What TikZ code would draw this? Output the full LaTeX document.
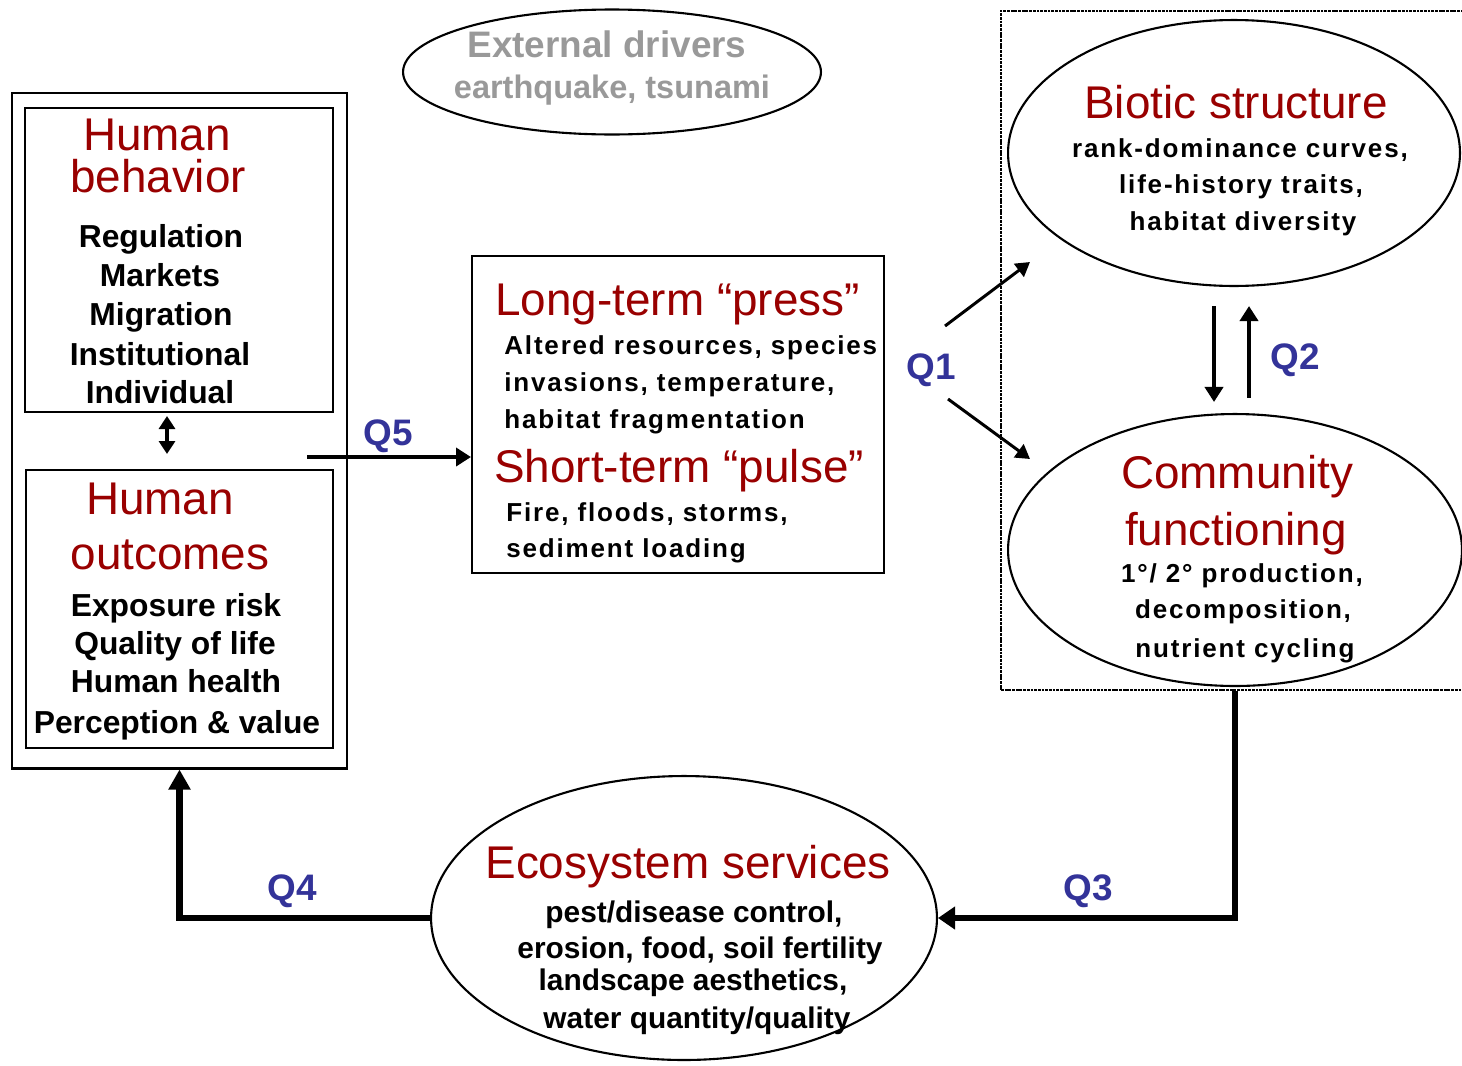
\documentclass[tikz,border=0pt]{standalone}
\usepackage{fontspec}
\setmainfont{Liberation Sans}
\newfontfamily\spacedsans{Liberation Sans}[LetterSpace=7]
\usetikzlibrary{arrows.meta,shapes.geometric,fit}
\definecolor{titlered}{HTML}{990000}
\definecolor{qblue}{HTML}{333399}
\definecolor{drivergray}{HTML}{999999}

\begin{document}
\begin{tikzpicture}[x=0.02cm,y=-0.02cm,
  txt/.style={inner sep=0pt, anchor=base},
  ltxt/.style={inner sep=0pt, anchor=base west},
  title/.style={text=titlered, font=\fontsize{26.1}{28}\selectfont},
  lbody/.style={font=\fontsize{18.1}{20}\selectfont\bfseries},
  sbody/.style={font=\fontsize{14.8}{17}\selectfont\spacedsans\bfseries},
  ebody/.style={font=\fontsize{17}{19}\selectfont\bfseries},
  qlabel/.style={txt, text=qblue, font=\fontsize{21}{23}\selectfont\bfseries},
  drivertxt/.style={txt, text=drivergray, font=\bfseries},
  box/.style={draw, line width=1.15pt, inner sep=0pt},
  oval/.style={draw, ellipse, line width=1.2pt, inner sep=0pt},
  link/.style={line width=2.3pt, -{Triangle[length=3mm,width=3.6mm]}},
  thinlink/.style={line width=1.7pt, -{Triangle[length=2.8mm,width=3.2mm]}},
]
\useasboundingbox (0,0) rectangle (1462,1065);
\clip (0,0) rectangle (1462,1065);

% ---- human side -------------------------------------------------------
\node[box, line width=1.7pt, fit={(12,93) (347,768)}] (outer) {};
\node[box, fit={(25,108) (333,412)}] (behav) {};
\node[box, fit={(26,470) (333,748)}] (outc) {};

\node[txt, title] (t-hum1) at (157,150) {Human};
\node[txt, title] (t-beh) at (158,192) {behavior};
\node[txt, lbody] (b-reg) at (161,247) {Regulation};
\node[txt, lbody] (b-mar) at (160,286) {Markets};
\node[txt, lbody] (b-mig) at (161,325) {Migration};
\node[txt, lbody] (b-ins) at (160,365) {Institutional};
\node[txt, lbody] (b-ind) at (160,403) {Individual};

\node[txt, title] (t-hum2) at (160,514) {Human};
\node[txt, title] (t-out) at (170,569) {outcomes};
\node[txt, lbody] (o-exp) at (176,616) {Exposure risk};
\node[txt, lbody] (o-qol) at (175,654) {Quality of life};
\node[txt, lbody] (o-hh) at (176,692) {Human health};
\node[txt, lbody] (o-per) at (177,733) {Perception \& value};

\coordinate (dx) at (167,0);
\draw[line width=2.4pt, {Triangle[length=2.6mm,width=3.2mm]}-{Triangle[length=2.6mm,width=3.2mm]},
      shorten <=0.6mm, shorten >=3mm] (behav.south -| dx) -- (outc.north -| dx);

% ---- external drivers -------------------------------------------------
\node[oval, minimum width=83.6mm, minimum height=25mm] (ext) at (612,72) {};
\node[drivertxt, font=\fontsize{21}{23}\selectfont\bfseries] (ext-1) at (607,57) {External drivers};
\node[drivertxt, font=\fontsize{18.5}{21}\selectfont\bfseries] (ext-2) at (612,98) {earthquake, tsunami};

% ---- press / pulse box ------------------------------------------------
\node[box, fit={(472,256) (884,573)}] (mid) {};
\node[ltxt, title] (t-press) at (495,315) {Long-term “press”};
\node[ltxt, sbody] (p-1) at (504,354) {Altered resources, species};
\node[ltxt, sbody] (p-2) at (504,391) {invasions, temperature,};
\node[ltxt, sbody] (p-3) at (504,428) {habitat fragmentation};
\node[ltxt, title] (t-pulse) at (494,482) {Short-term “pulse”};
\node[ltxt, sbody] (u-1) at (506,521) {Fire, floods, storms,};
\node[ltxt, sbody] (u-2) at (506,557) {sediment loading};

\coordinate (q5s) at (307,457);
\draw[link] (q5s) -- (q5s -| mid.west);
\node[qlabel] (q5) at (388,445) {Q5};

% ---- ecological side --------------------------------------------------
\node[draw, dash pattern=on 1.6pt off 0.5pt, line width=1.5pt, inner sep=0pt,
      fit={(1001,11) (1485,690)}] (ecobox) {};

\node[oval, minimum width=90.4mm, minimum height=53.2mm] (bio) at (1234,153) {};
\node[txt, title] (t-bio) at (1236,118) {Biotic structure};
\node[txt, sbody] (bi-1) at (1240,157) {rank-dominance curves,};
\node[txt, sbody] (bi-2) at (1241,193) {life-history traits,};
\node[txt, sbody] (bi-3) at (1243,230) {habitat diversity};

\node[oval, minimum width=90.8mm, minimum height=54.4mm] (comm) at (1235,550) {};
\node[txt, title] (t-com1) at (1237,488) {Community};
\node[txt, title] (t-com2) at (1236,545) {functioning};
\node[txt, sbody] (cf-1) at (1242,582) {1°/ 2° production,};
\node[txt, sbody] (cf-2) at (1243,618) {decomposition,};
\node[txt, sbody] (cf-3) at (1245,657) {nutrient cycling};

\coordinate (q1a) at (945,326);
\coordinate (q1b) at (1030,262);
\coordinate (q1c) at (948,399);
\coordinate (q1d) at (1030,459);
\draw[thinlink] (q1a) -- (q1b);
\draw[thinlink] (q1c) -- (q1d);
\node[qlabel] (q1) at (931,379) {Q1};

\coordinate (d1) at (1214,0);
\coordinate (d2) at (1249,0);
\draw[link, shorten <=3.8mm, shorten >=2.2mm] (bio.south -| d1) -- (comm.north -| d1);
\draw[link, shorten <=3mm, shorten >=3.8mm] (comm.north -| d2) -- (bio.south -| d2);
\node[qlabel] (q2) at (1295,369) {Q2};

% ---- ecosystem services -----------------------------------------------
\node[oval, minimum width=101.2mm, minimum height=56.8mm] (eco) at (684,918) {};
\node[txt, title] (t-eco) at (688,878) {Ecosystem services};
\node[txt, ebody] (e-1) at (694,922) {pest/disease control,};
\node[txt, ebody] (e-2) at (700,958) {erosion, food, soil fertility};
\node[txt, ebody] (e-3) at (693,990) {landscape aesthetics,};
\node[txt, ebody] (e-4) at (697,1028) {water quantity/quality};

\draw[line width=2.9pt, -{Triangle[length=3.4mm,width=4.4mm]}]
  (comm.south |- ecobox.south) -- (comm.south |- eco.east) -- (eco.east);
\node[qlabel] (q3) at (1088,900) {Q3};

\draw[line width=3.6pt, -{Triangle[length=4mm,width=4.2mm]}]
  (eco.west) -| (outer.south);
\node[qlabel] (q4) at (292,900) {Q4};
\end{tikzpicture}
\end{document}
